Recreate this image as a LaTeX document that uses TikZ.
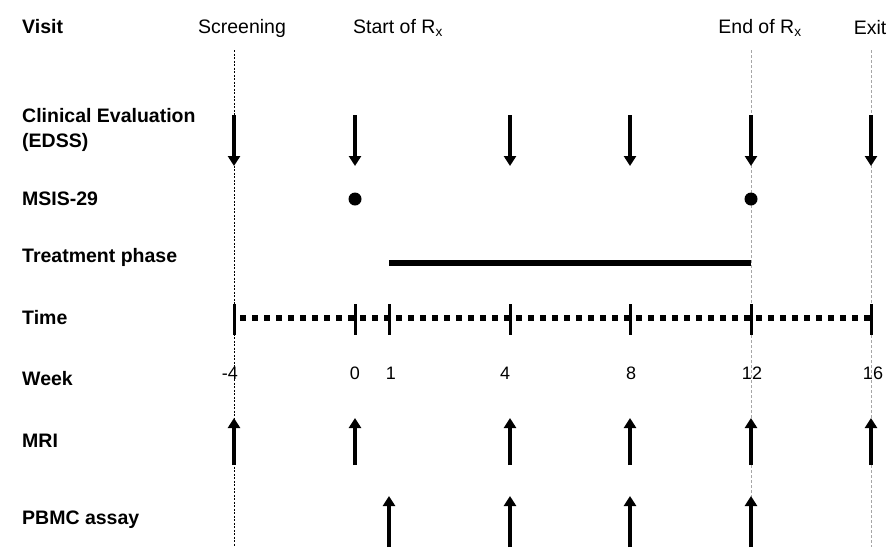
\documentclass[tikz,border=0pt]{standalone}
\usepackage{fontspec}
\setmainfont{Liberation Sans}
\usetikzlibrary{arrows.meta}
\begin{document}
\begin{tikzpicture}[x=1pt,y=-1pt,
  rowlabel/.style={anchor=west,inner sep=0pt,align=left,
    font=\fontsize{19.5}{25}\selectfont\bfseries},
  collabel/.style={inner sep=0pt,font=\fontsize{19.5}{22}\selectfont},
  weeknum/.style={inner sep=0pt,font=\fontsize{18}{20}\selectfont},
  marker/.style={line width=3.3pt,-{Triangle[length=10pt,width=12pt]}},
  dotmark/.style={circle,fill=black,inner sep=0pt,minimum size=13pt},
  guide/.style={line width=0.8pt,dash pattern=on 2pt off 1.5pt},
  softguide/.style={line width=0.8pt,black!35,dash pattern=on 3pt off 2pt},
  tick/.style={line width=3pt},
  bar/.style={line width=6.5pt}
]
\path[use as bounding box] (0,0) rectangle (889,547);

% row labels
\node[rowlabel] (lvisit) at (22,27) {Visit};
\node[rowlabel] (lclin) at (22,130) {Clinical Evaluation\\(EDSS)};
\node[rowlabel] (lmsis) at (22,199) {MSIS-29};
\node[rowlabel] (ltreat) at (22,257) {Treatment phase};
\node[rowlabel] (ltime) at (22,318) {Time};
\node[rowlabel] (lweek) at (22,379) {Week};
\node[rowlabel] (lmri) at (22,441) {MRI};
\node[rowlabel] (lpbmc) at (22,520) {PBMC assay};

% visit headers
\node[collabel] (hscr) at (242,28) {Screening};
\node[collabel] (hstart) at (398,28) {Start of R\textsubscript{x}};
\node[collabel] (hend) at (760,28) {End of R\textsubscript{x}};
\node[collabel] (hexit) at (870,28) {Exit};

% vertical guides
\coordinate (gs1) at (234,50); \coordinate (gs2) at (234,547);
\coordinate (ge1) at (751,50); \coordinate (ge2) at (751,547);
\coordinate (gx1) at (871,50); \coordinate (gx2) at (871,547);
\draw[guide] (gs1) -- (gs2);
\draw[softguide] (ge1) -- (ge2);
\draw[softguide] (gx1) -- (gx2);

% clinical evaluation (down arrows)
\foreach \x [count=\i] in {234,355,510,630,751,871}{
  \coordinate (c\i a) at (\x,115);
  \coordinate (c\i b) at (\x,166);
  \draw[marker] (c\i a) -- (c\i b);
}

% MSIS-29
\node[dotmark] (m1) at (355,199) {};
\node[dotmark] (m2) at (751,199) {};

% treatment phase
\coordinate (t1) at (389,263);
\coordinate (t2) at (751,263);
\draw[bar] (t1) -- (t2);

% time axis
\coordinate (ax1) at (234,318);
\coordinate (ax2) at (871,318);
\draw[line width=5.5pt,dash pattern=on 5.5pt off 6.5pt] ([xshift=6pt]ax1) -- (ax2);
\foreach \x [count=\i] in {234,355,389,510,630,751,871}{
  \coordinate (k\i a) at (\x,304);
  \coordinate (k\i b) at (\x,335);
  \draw[tick] (k\i a) -- (k\i b);
}

% week numbers
\node[weeknum,anchor=east] (w1) at (238,373) {-4};
\node[weeknum] (w2) at (355,373) {0};
\node[weeknum] (w3) at (391,373) {1};
\node[weeknum] (w4) at (505,373) {4};
\node[weeknum] (w5) at (631,373) {8};
\node[weeknum] (w6) at (752,373) {12};
\node[weeknum] (w7) at (873,373) {16};

% MRI (up arrows)
\foreach \x [count=\i] in {234,355,510,630,751,871}{
  \coordinate (r\i a) at (\x,465);
  \coordinate (r\i b) at (\x,418);
  \draw[marker] (r\i a) -- (r\i b);
}

% PBMC assay (up arrows)
\foreach \x [count=\i] in {389,510,630,751}{
  \coordinate (p\i a) at (\x,547);
  \coordinate (p\i b) at (\x,496);
  \draw[marker] (p\i a) -- (p\i b);
}
\end{tikzpicture}
\end{document}
